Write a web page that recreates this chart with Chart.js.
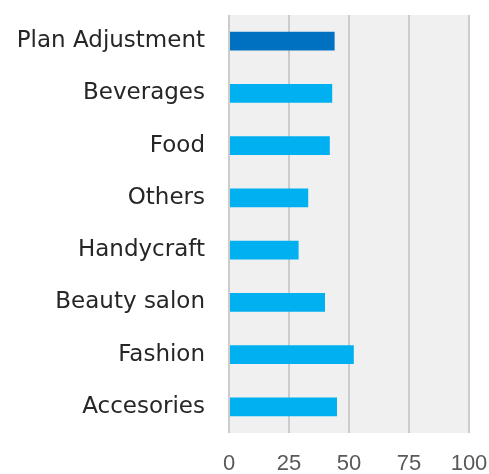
<!DOCTYPE html>
<html lang="en">

<head>
    <meta charset="UTF-8">
    <title>Categories</title>
    <script src="https://cdn.jsdelivr.net/npm/chart.js"></script>
    <style>
        html, body {
            margin: 0;
            padding: 0;
            background: #ffffff;
        }

        #contenedor {
            width: 489px;
            height: 474px;
        }
    </style>
</head>

<body>
    <div id="contenedor">
        <canvas id="canvas"></canvas>
    </div>

    <script>
        const categorias = ['Plan Adjustment', 'Beverages', 'Food', 'Others', 'Handycraft', 'Beauty salon', 'Fashion', 'Accesories']
        const valores = [44, 43, 42, 33, 29, 40, 52, 45]
        const colores = ['#0070c0', '#00b0f0', '#00b0f0', '#00b0f0', '#00b0f0', '#00b0f0', '#00b0f0', '#00b0f0']
        const ticksX = [0, 25, 50, 75, 100]

        // gray fill behind the plot area
        const fondo = {
            id: 'fondo',
            beforeDraw(chart) {
                const { ctx, chartArea } = chart
                ctx.save()
                ctx.fillStyle = '#f0f0f0'
                ctx.fillRect(chartArea.left, chartArea.top, chartArea.right - chartArea.left, chartArea.bottom - chartArea.top)
                ctx.restore()
            }
        }

        // no automatic padding for overflowing tick labels
        function SinPadding(scale) {
            scale.paddingLeft = 0
            scale.paddingRight = 0
            scale.paddingTop = 0
            scale.paddingBottom = 0
        }

        const ctx = document.getElementById('canvas')
        const graph = new Chart(ctx, {
            type: 'bar',
            data: {
                labels: categorias,
                datasets: [{
                    data: valores,
                    backgroundColor: colores,
                    barPercentage: 0.36,
                    categoryPercentage: 1
                }]
            },
            options: {
                indexAxis: 'y',
                responsive: true,
                maintainAspectRatio: false,
                animation: false,
                layout: {
                    padding: { top: 15, right: 20, left: 0, bottom: 0 }
                },
                plugins: {
                    legend: { display: false },
                    tooltip: { enabled: false }
                },
                scales: {
                    x: {
                        min: 0,
                        max: 100,
                        afterBuildTicks(scale) {
                            scale.ticks = ticksX.map(v => ({ value: v }))
                        },
                        afterFit(scale) {
                            scale.height = 41
                            SinPadding(scale)
                        },
                        grid: {
                            color: '#cccccc',
                            lineWidth: 2,
                            drawTicks: false
                        },
                        border: { display: false },
                        ticks: {
                            padding: 18,
                            maxRotation: 0,
                            color: '#595959',
                            font: { family: 'Liberation Sans', size: 22 }
                        }
                    },
                    y: {
                        afterFit(scale) {
                            scale.width = 229
                            SinPadding(scale)
                        },
                        grid: { display: false, drawTicks: false },
                        border: { display: false },
                        ticks: {
                            padding: 24,
                            color: '#262626',
                            font: { family: 'DejaVu Sans', size: 23 }
                        }
                    }
                }
            },
            plugins: [fondo]
        })
    </script>

</body>

</html>
